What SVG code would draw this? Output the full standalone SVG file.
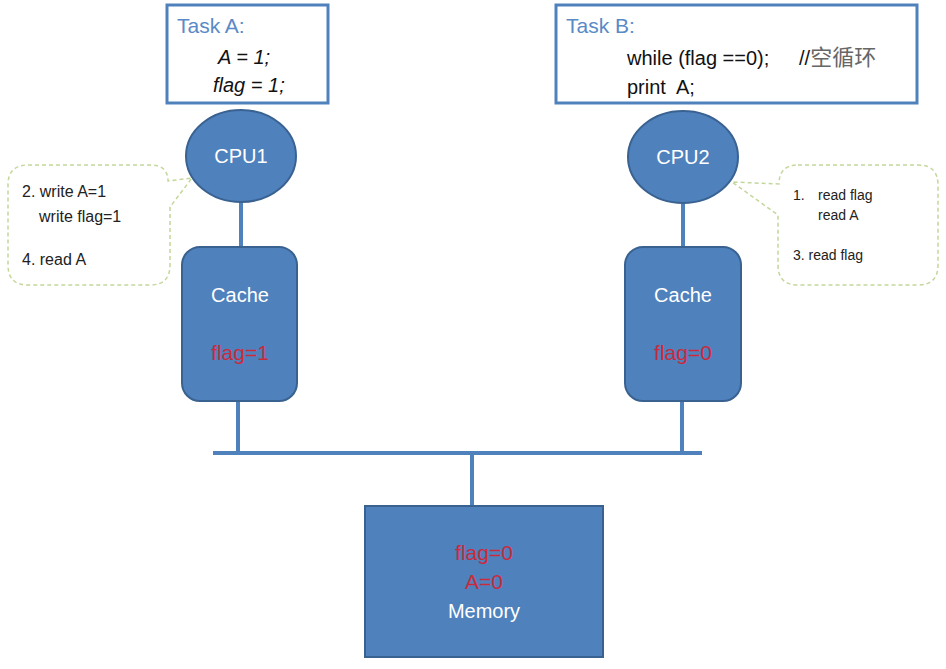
<svg xmlns="http://www.w3.org/2000/svg" width="946" height="669" viewBox="0 0 946 669">
<style>
.task{fill:#fff;stroke:#4f81bd;stroke-width:3}
.node{fill:#4f81bd;stroke:#3a6291;stroke-width:2}
.wire{stroke:#4f81bd;stroke-width:4;fill:none}
.call{fill:#fff;stroke:#c4d79b;stroke-width:1.5;stroke-dasharray:4 3}
.t{font-family:"Liberation Sans",Arial,sans-serif}
.lbl{fill:#5a8ac6;font-size:21px}
.code{fill:#111;font-size:20px}
.w{fill:#fff;font-size:20px}
.r{fill:#cc2a3c;font-size:21px}
.note{fill:#222;font-size:16px}
.note2{fill:#222;font-size:14px}
</style>
<rect width="946" height="669" fill="#fff"/>
<g id="connectors">
<line class="wire" x1="241" y1="202" x2="241" y2="247"/>
<line class="wire" x1="683" y1="202" x2="683" y2="247"/>
<line class="wire" x1="238" y1="401" x2="238" y2="453"/>
<line class="wire" x1="682" y1="401" x2="682" y2="453"/>
<line class="wire" x1="213" y1="453" x2="702" y2="453"/>
<line class="wire" x1="472" y1="453" x2="472" y2="506"/>
</g>
<g id="taskA">
<rect class="task" x="167" y="5" width="161" height="98"/>
<text class="t lbl" x="177" y="33">Task A:</text>
<text class="t code" x="218" y="64" font-style="italic">A = 1;</text>
<text class="t code" x="213" y="92" font-style="italic">flag = 1;</text>
</g>
<g id="taskB">
<rect class="task" x="556" y="5" width="361" height="98"/>
<text class="t lbl" x="566" y="33">Task B:</text>
<text class="t code" x="627" y="65" font-size="19px" xml:space="preserve">while (flag ==0);   <tspan x="799">//</tspan><tspan font-family="'Noto Sans CJK SC',sans-serif" font-size="22px" fill="#666">空循环</tspan></text>
<text class="t code" x="627" y="94" font-size="19px" xml:space="preserve">print  A;</text>
</g>
<g id="cpu1">
<ellipse class="node" cx="241" cy="156" rx="55" ry="46"/>
<text class="t w" x="241" y="163" text-anchor="middle">CPU1</text>
</g>
<g id="cpu2">
<ellipse class="node" cx="683" cy="157" rx="55" ry="46"/>
<text class="t w" x="683" y="164" text-anchor="middle">CPU2</text>
</g>
<g id="cache1">
<rect class="node" x="182" y="247" width="115" height="154" rx="18"/>
<text class="t w" x="240" y="302" text-anchor="middle" font-size="21px">Cache</text>
<text class="t r" x="240" y="360" text-anchor="middle">flag=1</text>
</g>
<g id="cache2">
<rect class="node" x="625" y="247" width="116" height="154" rx="18"/>
<text class="t w" x="683" y="302" text-anchor="middle" font-size="21px">Cache</text>
<text class="t r" x="683" y="360" text-anchor="middle">flag=0</text>
</g>
<g id="memory">
<rect class="node" x="365" y="506" width="238" height="151"/>
<text class="t r" x="484" y="560" text-anchor="middle">flag=0</text>
<text class="t r" x="484" y="589" text-anchor="middle">A=0</text>
<text class="t w" x="484" y="618" text-anchor="middle" font-size="22px">Memory</text>
</g>
<g id="note1">
<path class="call" d="M28,165 H150 Q168,165 168,181 L192,178 L170,207 V265 Q170,285 150,285 H28 Q8,285 8,265 V185 Q8,165 28,165 Z"/>
<text class="t note" x="22" y="197">2. write A=1</text>
<text class="t note" x="39" y="222">write flag=1</text>
<text class="t note" x="22" y="265">4. read A</text>
</g>
<g id="note2">
<path class="call" d="M798,165 H918 Q938,165 938,185 V265 Q938,285 918,285 H798 Q778,285 778,265 V215 L732,182 L779,184 Q779,165 798,165 Z"/>
<text class="t note2" x="793" y="200">1.</text>
<text class="t note2" x="818" y="200">read flag</text>
<text class="t note2" x="818" y="220">read A</text>
<text class="t note2" x="793" y="260">3. read flag</text>
</g>
</svg>
